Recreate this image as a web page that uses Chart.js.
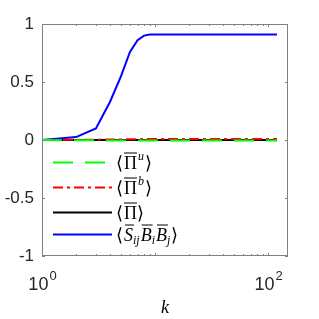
<!DOCTYPE html>
<html>
<head>
<meta charset="utf-8">
<script src="https://cdn.jsdelivr.net/npm/chart.js@4/dist/chart.umd.min.js"></script>
<style>
  html, body { margin: 0; padding: 0; background: #fff; }
  #wrap { width: 319px; height: 319px; }
</style>
</head>
<body>
<div id="wrap"><canvas id="grafico" width="319" height="319"></canvas></div>
<script>
// datos
const kValores = [1, 2, 3, 4, 5, 6, 7, 8, 9, 10, 15, 20, 30, 40, 60, 80, 100, 120];
const piU     = [0, -0.002, -0.003, -0.004, -0.004, -0.005, -0.005, -0.005, -0.005, -0.005, -0.005, -0.005, -0.005, -0.005, -0.005, -0.005, -0.005, -0.005];
const piB     = [0, 0.002, 0.003, 0.004, 0.005, 0.006, 0.007, 0.008, 0.008, 0.008, 0.008, 0.008, 0.008, 0.008, 0.008, 0.008, 0.008, 0.008];
const piTotal = [0, 0, 0, 0, 0, 0, 0, 0, 0, 0, 0, 0, 0, 0, 0, 0, 0, 0];
const sBB     = [0, 0.025, 0.1, 0.33, 0.55, 0.76, 0.86, 0.9, 0.91, 0.91, 0.91, 0.91, 0.91, 0.91, 0.91, 0.91, 0.91, 0.91];

const yTicks = [-1, -0.5, 0, 0.5, 1];
const xTickLabels = [[1, '0'], [100, '2']];

const etiquetas = [
    { base: '\u03A0', sup: 'u', sub: '' },
    { base: '\u03A0', sup: 'b', sub: '' },
    { base: '\u03A0', sup: '', sub: '' },
    { base: 'S', sup: '', sub: 'ij', extra: true }
];

function puntos(vals) {
    return kValores.map((k, i) => ({ x: k, y: vals[i] }));
}

const colorEje = '#808080';

// Dibuja caja, marcas interiores, etiquetas del eje x y la leyenda
const extras = {
    id: 'extras',
    afterDraw(chart) {
        const ctx = chart.ctx;
        const a = chart.chartArea;
        const sx = chart.scales.x;
        const sy = chart.scales.y;
        ctx.save();
        ctx.strokeStyle = colorEje;
        ctx.lineWidth = 1;
        ctx.strokeRect(a.left + 0.5, a.top + 0.5, a.right - a.left - 1, a.bottom - a.top - 1);

        // marcas menores en x
        ctx.beginPath();
        [1, 10, 100].forEach(function (dec) {
            for (let m = 1; m <= 9; m++) {
                const v = dec * m;
                if (v > sx.max) continue;
                const px = Math.round(sx.getPixelForValue(v)) + 0.5;
                const len = (m === 1) ? 3 : 2;
                ctx.moveTo(px, a.bottom); ctx.lineTo(px, a.bottom - len);
                ctx.moveTo(px, a.top); ctx.lineTo(px, a.top + len);
            }
        });
        yTicks.forEach(function (v) {
            const py = Math.round(sy.getPixelForValue(v)) + 0.5;
            ctx.moveTo(a.left, py); ctx.lineTo(a.left + 3, py);
            ctx.moveTo(a.right, py); ctx.lineTo(a.right - 3, py);
        });
        ctx.stroke();

        // etiquetas 10^n
        ctx.fillStyle = '#262626';
        const yBase = chart.height - 29;
        xTickLabels.forEach(function (t) {
            const px = sx.getPixelForValue(t[0]);
            ctx.font = '18px "Liberation Sans", Arial, sans-serif';
            const w1 = ctx.measureText('10').width;
            ctx.font = '13px "Liberation Sans", Arial, sans-serif';
            const w2 = ctx.measureText(t[1]).width;
            const x0 = px - (w1 + w2) / 2;
            ctx.textAlign = 'left';
            ctx.textBaseline = 'alphabetic';
            ctx.font = '18px "Liberation Sans", Arial, sans-serif';
            ctx.fillText('10', x0, yBase);
            ctx.font = '13px "Liberation Sans", Arial, sans-serif';
            ctx.fillText(t[1], x0 + w1 + 1, yBase - 10);
        });

        // leyenda
        const filas = [162, 187, 212, 234];
        chart.data.datasets.forEach(function (ds, i) {
            const y = filas[i] + 0.5;
            ctx.strokeStyle = ds.borderColor;
            ctx.lineWidth = ds.borderWidth;
            ctx.setLineDash(ds.borderDash || []);
            ctx.beginPath();
            ctx.moveTo(53, y); ctx.lineTo(112, y);
            ctx.stroke();
            ctx.setLineDash([]);
            dibujarEtiqueta(ctx, etiquetas[i], 116, y + 6);
        });
        ctx.restore();
    }
};

function sobreRaya(ctx, x, w, y) {
    ctx.beginPath();
    ctx.moveTo(x, y); ctx.lineTo(x + w, y);
    ctx.stroke();
}

function dibujarEtiqueta(ctx, e, x, base) {
    ctx.fillStyle = '#000';
    ctx.strokeStyle = '#000';
    ctx.lineWidth = 1;
    ctx.textAlign = 'left';
    ctx.textBaseline = 'alphabetic';
    const fNorm = '18px "Liberation Serif", "Times New Roman", serif';
    const fIt = 'italic 18px "Liberation Serif", "Times New Roman", serif';
    const fPeq = 'italic 12px "Liberation Serif", "Times New Roman", serif';
    ctx.font = fNorm;
    ctx.fillText('\u27E8', x, base);
    x += ctx.measureText('\u27E8').width + 1;
    if (e.extra) {
        // S_ij B_i B_j
        const partes = [['S', 'ij'], ['B', 'i'], ['B', 'j']];
        partes.forEach(function (p) {
            ctx.font = fIt;
            const w = ctx.measureText(p[0]).width;
            ctx.fillText(p[0], x, base);
            sobreRaya(ctx, x + 1, w, base - 15.5);
            x += w;
            ctx.font = fPeq;
            ctx.fillText(p[1], x, base + 3);
            x += ctx.measureText(p[1]).width + 1;
        });
    } else {
        ctx.font = fNorm;
        const w = ctx.measureText(e.base).width;
        ctx.fillText(e.base, x, base);
        sobreRaya(ctx, x, w, base - 15.5);
        x += w;
        if (e.sup) {
            ctx.font = fPeq;
            ctx.fillText(e.sup, x + 1, base - 9);
            x += ctx.measureText(e.sup).width + 2;
        }
    }
    ctx.font = fNorm;
    ctx.fillText('\u27E9', x, base);
}

const ctx = document.getElementById('grafico').getContext('2d');
const myChart = new Chart(ctx, {
    type: 'line',
    data: {
        datasets: [{
            label: 'Pi u',
            data: puntos(piU),
            borderColor: '#00ff00',
            borderWidth: 2,
            borderDash: [20, 12]
        }, {
            label: 'Pi b',
            data: puntos(piB),
            borderColor: '#ff0000',
            borderWidth: 2,
            borderDash: [10, 4, 3, 4]
        }, {
            label: 'Pi',
            data: puntos(piTotal),
            borderColor: '#000000',
            borderWidth: 2
        }, {
            label: 'S B B',
            data: puntos(sBB),
            borderColor: '#0000ff',
            borderWidth: 2
        }]
    },
    options: {
        responsive: false,
        animation: false,
        devicePixelRatio: 1,
        layout: { padding: { top: 24, right: 31, left: 0, bottom: 0 } },
        elements: { point: { radius: 0 }, line: { tension: 0 } },
        plugins: {
            legend: { display: false },
            tooltip: { enabled: false }
        },
        scales: {
            x: {
                type: 'logarithmic',
                min: 1,
                max: 150,
                grid: { display: false, drawTicks: false },
                border: { display: false },
                ticks: { display: false },
                title: {
                    display: true,
                    text: 'k',
                    color: '#000',
                    font: { family: '"Liberation Serif", serif', style: 'italic', size: 18 },
                    padding: { top: 38, bottom: 0 }
                },
                afterFit: function (s) { s.height = 63; }
            },
            y: {
                min: -1,
                max: 1,
                grid: { display: false, drawTicks: false },
                border: { display: false },
                afterBuildTicks: function (s) { s.ticks = yTicks.map(v => ({ value: v })); },
                ticks: {
                    color: '#262626',
                    padding: 8,
                    font: { family: '"Liberation Sans", Arial, sans-serif', size: 17 },
                    callback: function (v) { return String(v); }
                },
                afterFit: function (s) { s.width = 42; }
            }
        }
    },
    plugins: [extras]
});
</script>
</body>
</html>
